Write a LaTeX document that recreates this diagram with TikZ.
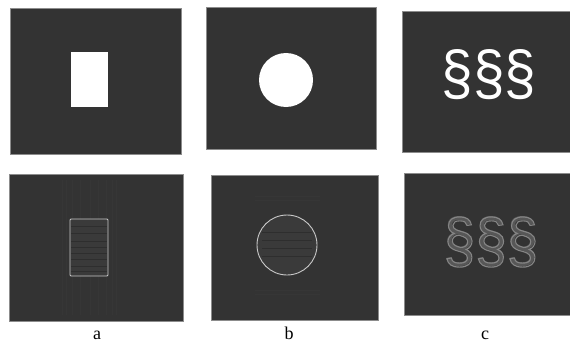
\documentclass[tikz,border=0pt]{standalone}
\usepackage{fontspec}
\setmainfont{Liberation Serif}
\newfontfamily\symfont{Liberation Sans}
\definecolor{bg}{HTML}{333333}
\definecolor{edgegray}{HTML}{8C8C8C}
\definecolor{ringgray}{HTML}{C8C8C8}
\definecolor{innergray}{HTML}{3A3A3A}
\definecolor{streak}{HTML}{363636}
\definecolor{hline}{HTML}{2E2E2E}
\newcommand{\strokeon}{\special{pdf:literal direct 1 Tr 1.0 w 0.52 G}}
\newcommand{\strokeoff}{\special{pdf:literal direct 0 Tr}}
\tikzset{
  panel/.style={fill=bg, draw=edgegray, line width=0.4pt},
  lbl/.style={font=\fontsize{18}{18}\selectfont, anchor=base, inner sep=0pt},
  sym/.style={font=\symfont\fontsize{54}{54}\selectfont, inner sep=0pt, xscale=1.05, yscale=1.15, transform shape},
}
\begin{document}
\begin{tikzpicture}[x=1pt,y=-1pt]
\useasboundingbox (0,0) rectangle (570,345);
% top row
\filldraw[panel] (10,8) rectangle (181,154);
\fill[white] (71,52) rectangle (108,107);
\filldraw[panel] (206,7) rectangle (376,149);
\fill[white] (286,80) circle (27);
\filldraw[panel] (402,11) rectangle (571,152);
\node[sym, text=white] (symtop) at (489,75) {§§§};
% bottom row
\filldraw[panel] (9,174) rectangle (183,321);
\foreach \x in {62,66,72,80,90,98,106,112,116}
  \draw[streak, line width=0.5pt] (\x,180) -- (\x,315);
\fill[innergray] (70,219) rectangle (108,276);
\foreach \y in {226,233,241,247,253,259,266,271}
  \draw[hline, line width=0.4pt] (71,\y) -- (107,\y);
\draw[ringgray, line width=0.9pt, rounded corners=1pt] (70,219) rectangle (108,276);
\filldraw[panel] (211,175) rectangle (378,320);
\foreach \y in {196,200,290,294}
  \draw[streak, line width=1pt] (255,\y) -- (320,\y);
\fill[innergray] (287,245) circle (30);
\foreach \y in {232,240,248,256}
  \draw[hline, line width=0.4pt] (262,\y) -- (312,\y);
\draw[ringgray, line width=0.9pt] (287,245) circle (30);
\filldraw[panel] (404,173) rectangle (571,315);
\node[sym, text=innergray!85!white] (symfill) at (491,242) {§§§};
\node[sym] (symbot) at (491,242) {\strokeon§§§\strokeoff};
% labels
\node[lbl] (la) at (97,339) {a};
\node[lbl] (lb) at (289,339) {b};
\node[lbl] (lc) at (485,339) {c};
\end{tikzpicture}
\end{document}
